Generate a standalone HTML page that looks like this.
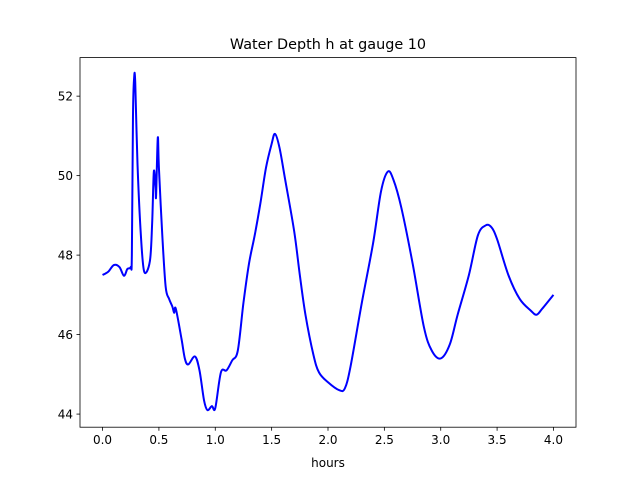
<!DOCTYPE html>
<html><head><meta charset="utf-8">
<style>body{margin:0;background:#fff}svg{display:block;font-family:"DejaVu Sans","Liberation Sans",sans-serif}</style>
</head><body>
<svg id="chart" width="640" height="480">
<rect width="640" height="480" fill="#fff"/>
<text x="328" y="49" font-size="14.4" text-anchor="middle">Water Depth h at gauge 10</text>
<g id="plot"></g>
<rect x="80" y="57.6" width="496" height="369.6" fill="none" stroke="#000" stroke-width="0.8"/>
<text x="328" y="467" font-size="12" text-anchor="middle">hours</text>
</svg>
<script>
const hours=[0,0.05,0.1,0.15,0.19,0.22,0.25,0.26,0.27,0.28,0.29,0.31,0.34,0.37,0.42,0.44,0.455,0.47,0.475,0.49,0.5,0.53,0.56,0.59,0.62,0.635,0.65,0.7,0.73,0.76,0.82,0.86,0.9,0.93,0.97,1.0,1.05,1.1,1.15,1.2,1.25,1.3,1.35,1.4,1.45,1.5,1.53,1.57,1.62,1.7,1.75,1.8,1.87,1.92,2.0,2.1,2.15,2.2,2.3,2.4,2.47,2.53,2.58,2.65,2.75,2.85,2.92,3.0,3.08,3.15,3.25,3.33,3.4,3.45,3.5,3.6,3.7,3.8,3.85,3.9,4.0];
const depth=[47.5,47.58,47.75,47.7,47.48,47.65,47.7,48.0,51.5,52.45,52.35,50.3,48.5,47.58,47.85,48.8,50.1,49.7,49.5,50.95,50.2,48.5,47.2,46.9,46.7,46.55,46.65,45.9,45.4,45.25,45.45,45.1,44.35,44.1,44.2,44.15,45.05,45.1,45.35,45.6,46.8,47.8,48.5,49.3,50.2,50.8,51.05,50.7,49.9,48.6,47.5,46.5,45.5,45.05,44.8,44.6,44.65,45.2,46.8,48.3,49.6,50.1,49.9,49.2,47.8,46.2,45.6,45.4,45.75,46.5,47.5,48.5,48.75,48.7,48.4,47.5,46.9,46.6,46.5,46.65,47.0];
const xTicks=[0,0.5,1,1.5,2,2.5,3,3.5,4];
const xTickLabels=["0.0","0.5","1.0","1.5","2.0","2.5","3.0","3.5","4.0"];
const yTicks=[44,46,48,50,52];
const yTickLabels=["44","46","48","50","52"];
const L=80,R=576,T=57.6,B=427.2;
const xmin=-0.2,xmax=4.2,ymin=43.67,ymax=52.97;
const sx=v=>L+(v-xmin)/(xmax-xmin)*(R-L);
const sy=v=>B-(v-ymin)/(ymax-ymin)*(B-T);
const NS="http://www.w3.org/2000/svg";
const svg=document.getElementById('chart');
function mk(t,a){const e=document.createElementNS(NS,t);for(const k in a)e.setAttribute(k,a[k]);svg.appendChild(e);return e;}
xTicks.forEach((v,i)=>{
  const l=mk('line',{x1:sx(v),x2:sx(v),y1:B,y2:B+3.5,stroke:'#000','stroke-width':0.8});
  
  
  const t=mk('text',{x:sx(v),y:B+17,'font-size':12,'text-anchor':'middle'});
  t.textContent=xTickLabels[i];
  
  
});
yTicks.forEach((v,i)=>{
  const l=mk('line',{x1:L-3.5,x2:L,y1:sy(v),y2:sy(v),stroke:'#000','stroke-width':0.8});
  
  
  const t=mk('text',{x:L-7,y:sy(v)+4.5,'font-size':12,'text-anchor':'end'});
  t.textContent=yTickLabels[i];
  
  
});
const pts=hours.map((h,i)=>[sx(h),sy(depth[i])]);
let d='M'+pts[0][0]+','+pts[0][1];
for(let i=0;i<pts.length-1;i++){
  const p0=pts[Math.max(0,i-1)],p1=pts[i],p2=pts[i+1],p3=pts[Math.min(pts.length-1,i+2)];
  const c1=[p1[0]+(p2[0]-p0[0])/6,p1[1]+(p2[1]-p0[1])/6];
  const c2=[p2[0]-(p3[0]-p1[0])/6,p2[1]-(p3[1]-p1[1])/6];
  d+=` C${c1[0]},${c1[1]} ${c2[0]},${c2[1]} ${p2[0]},${p2[1]}`;
}
const line=mk('path',{d:d,fill:'none',stroke:'#0000ff','stroke-width':2,'stroke-linejoin':'round'});


</script>
</body></html>
